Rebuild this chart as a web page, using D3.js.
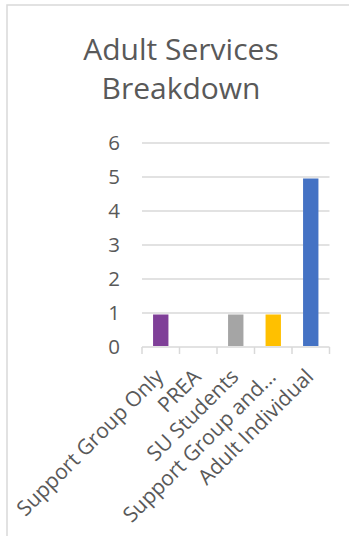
<!DOCTYPE html>
<html>
<head>
<meta charset="utf-8">
<script src="https://cdn.jsdelivr.net/npm/d3@7"></script>
<style>
  html, body { margin: 0; padding: 0; background: #fff; }
  svg { display: block; }
</style>
</head>
<body>
<svg id="chart" width="349" height="536"></svg>
<script>
const titleLines = ["Adult Services", "Breakdown"];
const categories = ["Support Group Only", "PREA", "SU Students", "Support Group and...", "Adult Individual"];
const values = [1, 0, 1, 1, 5];
const colors = ["#7F3F98", "#ED7D31", "#A5A5A5", "#FFC000", "#4472C4"];
const yTicks = [0, 1, 2, 3, 4, 5, 6];

const svg = d3.select("#chart");
const font = "'Open Sans', 'Noto Sans', sans-serif";
const textColor = "#595959";
const gridColor = "#D9D9D9";

// frame
svg.append("rect")
  .attr("x", 7).attr("y", 5).attr("width", 360).attr("height", 560)
  .attr("fill", "none").attr("stroke", gridColor).attr("stroke-width", 1.5);

// title
const title = svg.append("text")
  .attr("text-anchor", "middle")
  .attr("font-family", font).attr("font-size", 30)
  .attr("fill", textColor);
titleLines.forEach((t, i) => {
  title.append("tspan").attr("x", 181).attr("y", 60 + i * 39).text(t);
});

const plot = { left: 142, right: 329.5, top: 143, bottom: 347 };

const x = d3.scaleBand().domain(categories).range([plot.left, plot.right]).paddingInner(0.59).paddingOuter(0.295);
const xb = d3.scaleBand().domain(categories).range([plot.left, plot.right]);
const y = d3.scaleLinear().domain([0, 6]).range([plot.bottom, plot.top]);

// gridlines
svg.append("g").selectAll("line").data(yTicks.filter(d => d > 0)).join("line")
  .attr("x1", plot.left).attr("x2", plot.right)
  .attr("y1", d => y(d)).attr("y2", d => y(d))
  .attr("stroke", gridColor).attr("stroke-width", 1.5);

// y-axis labels
svg.append("g").selectAll("text").data(yTicks).join("text")
  .attr("x", 120).attr("y", d => y(d)).attr("dy", "0.36em")
  .attr("text-anchor", "end")
  .attr("font-family", font).attr("font-size", 20.5).attr("fill", textColor)
  .text(d => d);

// bars
svg.append("g").selectAll("rect").data(categories).join("rect")
  .attr("x", d => x(d)).attr("width", x.bandwidth())
  .attr("y", (d, i) => y(values[i]) + 1.5).attr("height", (d, i) => Math.max(0, y(0) - y(values[i]) - 2.5))
  .attr("fill", (d, i) => colors[i]);

// x axis line and ticks
svg.append("line")
  .attr("x1", plot.left).attr("x2", plot.right)
  .attr("y1", plot.bottom).attr("y2", plot.bottom)
  .attr("stroke", gridColor).attr("stroke-width", 1.5);
const tickPos = categories.map(c => xb(c)).concat([plot.right]);
svg.append("g").selectAll("line").data(tickPos).join("line")
  .attr("x1", d => d).attr("x2", d => d)
  .attr("y1", plot.bottom).attr("y2", plot.bottom + 7)
  .attr("stroke", gridColor).attr("stroke-width", 1.5);

// category labels
svg.append("g").selectAll("text").data(categories).join("text")
  .attr("transform", d => `translate(${xb(d) + xb.bandwidth() / 2 + 4},${plot.bottom + 31}) rotate(-45)`)
  .attr("text-anchor", "end")
  .attr("font-family", font).attr("font-size", 21).attr("fill", textColor)
  .text(d => d);
</script>
</body>
</html>
